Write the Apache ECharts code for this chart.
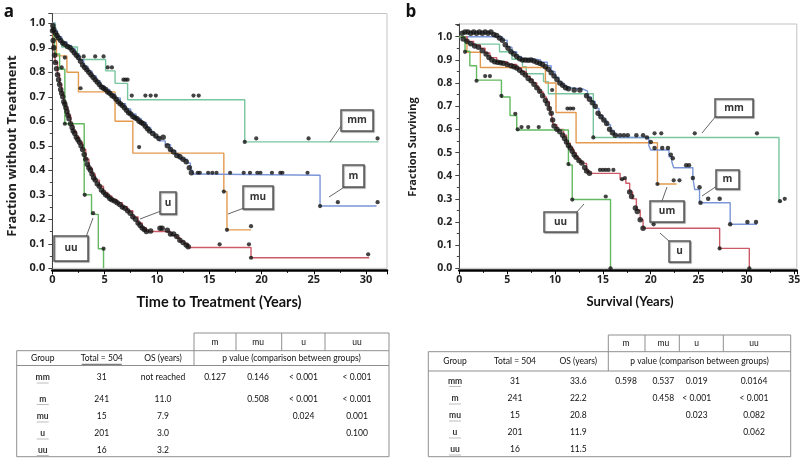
<!DOCTYPE html>
<html><head><meta charset="utf-8">
<script src="https://cdn.jsdelivr.net/npm/echarts@6/dist/echarts.min.js"></script>
<style>html,body{margin:0;padding:0;background:#fff}#c{width:800px;height:459px}</style>
</head><body><div id="c"></div>
<script>
// ---------------- Panel a: Time to Treatment (step curves [years, fraction]) ----------------
const aMM = [[0,1],[0.3,0.935],[0.9,0.903],[2.4,0.852],[5.1,0.806],[6.0,0.755],[7.2,0.688],[18.4,0.516],[31.2,0.516]];
const aMU = [[0,1],[0.2,0.933],[0.4,0.867],[1.4,0.8],[2.5,0.72],[6.0,0.6],[7.7,0.47],[16.4,0.313],[16.7,0.157],[19.0,0.157]];
const aM = [[0,1],[0.2,0.97],[0.5,0.945],[0.9,0.925],[1.4,0.91],[1.8,0.895],[2.2,0.875],[2.6,0.85],[3.0,0.825],[3.4,0.805],[3.8,0.785],[4.2,0.765],[4.6,0.745],[5.0,0.73],[5.5,0.712],[6.0,0.695],[6.5,0.672],[7.0,0.65],[7.5,0.63],[8.0,0.612],[8.5,0.595],[9.0,0.575],[9.4,0.555],[9.8,0.535],[10.2,0.52],[10.8,0.505],[11.3,0.48],[11.8,0.465],[12.2,0.445],[12.9,0.43],[13.2,0.40],[13.4,0.385],[13.7,0.38],[25.6,0.254],[31.0,0.254]];
const aU = [[0,1],[0.05,0.95],[0.15,0.9],[0.3,0.84],[0.5,0.79],[0.7,0.75],[0.9,0.715],[1.1,0.68],[1.3,0.655],[1.5,0.625],[1.75,0.59],[2.0,0.56],[2.3,0.535],[2.6,0.515],[2.9,0.485],[3.2,0.445],[3.5,0.41],[3.8,0.385],[4.1,0.36],[4.5,0.335],[4.9,0.31],[5.3,0.295],[5.7,0.28],[6.2,0.268],[6.7,0.25],[7.2,0.235],[7.7,0.21],[8.2,0.185],[8.6,0.165],[9.0,0.15],[11.3,0.135],[11.9,0.125],[12.2,0.11],[12.6,0.1],[13.0,0.085],[19.0,0.043],[30.3,0.043]];
const aUU = [[0,1],[0.15,0.9375],[0.3,0.875],[0.7,0.8125],[1.2,0.59],[3.05,0.30],[3.75,0.22],[4.4,0.08],[4.9,0]];
// dense event marks along the curves
const aMdots = [[0.05,0.99],[0.15,0.975],[0.3,0.96],[0.45,0.95],[0.6,0.94],[0.8,0.93],[1.0,0.92],[1.2,0.915],[1.45,0.905],[1.7,0.9],[1.9,0.89],[2.1,0.88],[2.3,0.87],[2.5,0.86],[2.7,0.845],[2.9,0.83],[3.1,0.82],[3.3,0.81],[3.5,0.8],[3.7,0.79],[3.9,0.78],[4.1,0.77],[4.3,0.76],[4.5,0.75],[4.7,0.74],[4.9,0.735],[5.1,0.73],[5.3,0.72],[5.5,0.715],[5.7,0.705],[5.9,0.7],[6.1,0.69],[6.3,0.68],[6.5,0.672],[6.7,0.665],[6.9,0.655],[7.1,0.645],[7.3,0.635],[7.5,0.63],[7.7,0.62],[7.9,0.615],[8.1,0.61],[8.3,0.6],[8.5,0.595],[8.7,0.59],[8.9,0.58],[9.1,0.57],[9.3,0.56],[9.6,0.55],[9.9,0.54],[10.2,0.53],[10.6,0.535],[11.0,0.5],[11.3,0.485],[11.6,0.475],[11.9,0.46],[12.2,0.455],[12.5,0.445],[12.8,0.435],[13.1,0.41],[13.3,0.39]];
const aUdots = [[0.02,0.97],[0.08,0.93],[0.15,0.9],[0.22,0.87],[0.3,0.84],[0.4,0.815],[0.5,0.79],[0.6,0.77],[0.7,0.75],[0.8,0.73],[0.9,0.715],[1.0,0.7],[1.1,0.68],[1.2,0.67],[1.3,0.655],[1.4,0.64],[1.5,0.625],[1.6,0.61],[1.75,0.59],[1.9,0.575],[2.0,0.56],[2.15,0.55],[2.3,0.535],[2.45,0.525],[2.6,0.515],[2.75,0.5],[2.9,0.485],[3.05,0.465],[3.2,0.445],[3.35,0.425],[3.5,0.41],[3.65,0.4],[3.8,0.385],[3.95,0.37],[4.1,0.36],[4.3,0.345],[4.5,0.335],[4.7,0.32],[4.9,0.31],[5.1,0.3],[5.3,0.295],[5.5,0.285],[5.7,0.28],[5.95,0.275],[6.2,0.268],[6.45,0.26],[6.7,0.25],[6.95,0.245],[7.2,0.235],[7.45,0.225],[7.7,0.21],[7.95,0.2],[8.2,0.185],[8.4,0.175],[8.6,0.165],[8.8,0.158],[9.0,0.15],[9.4,0.152],[10.3,0.163],[10.5,0.163],[11.0,0.155],[11.3,0.14],[11.6,0.14],[11.9,0.13],[12.2,0.115],[12.5,0.105],[12.8,0.095],[13.0,0.088]];
// censored marks
const aMMcens = [[3.0,0.865],[4.1,0.865],[4.9,0.865],[5.3,0.82],[5.7,0.82],[6.8,0.77],[7.0,0.77],[7.2,0.77],[7.6,0.705],[8.9,0.705],[9.4,0.705],[9.9,0.705],[13.5,0.705],[14.0,0.705],[18.4,0.516],[19.5,0.53],[24.5,0.53],[31.1,0.53]];
const aMUcens = [[1.2,0.86],[2.7,0.735],[8.3,0.495],[16.4,0.313],[16.7,0.157],[19.0,0.172]];
const aMcens = [[13.9,0.39],[14.1,0.39],[14.9,0.39],[15.3,0.39],[15.7,0.39],[17.0,0.39],[18.3,0.39],[18.9,0.39],[19.6,0.39],[19.9,0.39],[21.0,0.39],[21.8,0.39],[22.0,0.39],[24.4,0.39],[25.6,0.254],[27.3,0.27],[31.1,0.27]];
const aUcens = [[16.0,0.098],[18.8,0.098],[19.0,0.043],[30.2,0.057]];
const aUUcens = [[0.9,0.82],[1.2,0.59],[3.1,0.30],[3.9,0.225],[4.9,0.08]];

// ---------------- Panel b: Survival ----------------
const bMM = [[0,1],[0.8,0.968],[4.2,0.935],[5.5,0.903],[6.6,0.871],[7.0,0.84],[8.8,0.806],[9.3,0.754],[14.0,0.565],[33.4,0.29],[33.7,0.29]];
const bMU = [[0,1],[0.8,0.933],[2.2,0.867],[9.0,0.80],[10.1,0.673],[12.2,0.542],[20.7,0.364],[22.7,0.364]];
const bM = [[0,1],[4.0,1],[4.5,0.985],[5.0,0.955],[5.5,0.935],[6.0,0.915],[6.5,0.905],[7.5,0.9],[8.5,0.89],[9.2,0.875],[9.6,0.85],[10.0,0.825],[10.4,0.805],[10.8,0.79],[11.2,0.78],[11.6,0.773],[13.0,0.765],[13.4,0.74],[13.8,0.72],[14.2,0.69],[14.6,0.66],[15.0,0.64],[15.4,0.62],[15.8,0.595],[16.2,0.575],[16.6,0.565],[19.8,0.53],[20.0,0.511],[21.9,0.482],[22.2,0.46],[22.4,0.434],[24.4,0.39],[24.6,0.34],[25.1,0.283],[28.3,0.19],[31.1,0.19]];
const bU = [[0,1],[0.8,0.98],[1.5,0.965],[2.2,0.95],[2.7,0.93],[3.2,0.91],[3.9,0.892],[5.0,0.88],[6.0,0.865],[6.5,0.85],[7.0,0.83],[7.4,0.815],[7.7,0.8],[8.1,0.78],[8.4,0.76],[8.8,0.74],[9.1,0.72],[9.4,0.69],[9.6,0.67],[9.8,0.62],[10.2,0.6],[10.9,0.575],[11.2,0.54],[11.6,0.52],[11.9,0.5],[12.2,0.48],[12.5,0.465],[12.8,0.453],[13.3,0.42],[13.6,0.41],[16.8,0.385],[17.4,0.367],[17.8,0.33],[18.1,0.3],[18.5,0.252],[18.9,0.21],[19.2,0.173],[27.2,0.086],[30.3,0]];
const bUU = [[0,1],[0.6,0.9375],[1.1,0.875],[1.8,0.8125],[4.4,0.74],[5.3,0.66],[6.0,0.597],[11.4,0.446],[11.8,0.297],[15.8,0]];
const bMdots = [[0.3,1.015],[0.6,1.02],[0.9,1.02],[1.2,1.015],[1.5,1.02],[1.8,1.015],[2.1,1.02],[2.4,1.015],[2.7,1.02],[3.0,1.015],[3.3,1.02],[3.6,1.01],[3.9,1.005],[4.2,0.995],[4.5,0.985],[4.8,0.965],[5.1,0.95],[5.4,0.935],[5.7,0.925],[6.0,0.915],[6.3,0.905],[6.6,0.9],[6.9,0.9],[7.2,0.898],[7.5,0.9],[7.8,0.895],[8.1,0.89],[8.4,0.885],[8.7,0.88],[9.0,0.87],[9.3,0.86],[9.6,0.845],[9.9,0.83],[10.2,0.815],[10.5,0.8],[10.8,0.79],[11.1,0.78],[11.4,0.775],[12.0,0.77],[12.6,0.77],[13.3,0.745],[13.6,0.73],[13.9,0.715],[14.2,0.7],[14.5,0.67],[14.8,0.655],[15.1,0.64],[15.4,0.625],[15.7,0.6],[16.0,0.585],[16.3,0.575]];
const bUdots = [[0.4,0.99],[0.8,0.98],[1.2,0.97],[1.6,0.96],[2.0,0.955],[2.4,0.94],[2.8,0.925],[3.1,0.91],[3.4,0.9],[3.7,0.892],[4.0,0.89],[4.3,0.888],[4.6,0.885],[5.0,0.88],[5.4,0.875],[5.7,0.87],[6.0,0.865],[6.3,0.855],[6.6,0.845],[6.9,0.835],[7.2,0.82],[7.5,0.81],[7.8,0.795],[8.1,0.78],[8.4,0.765],[8.7,0.745],[9.0,0.725],[9.2,0.71],[9.4,0.69],[9.6,0.67],[9.75,0.64],[9.9,0.615],[10.2,0.6],[10.5,0.59],[10.8,0.575],[11.0,0.56],[11.2,0.545],[11.4,0.53],[11.6,0.52],[11.8,0.505],[12.0,0.49],[12.2,0.48],[12.5,0.465],[12.8,0.455],[13.1,0.435],[13.3,0.42],[13.6,0.41],[17.8,0.33],[18.0,0.31],[18.4,0.26],[18.6,0.245],[18.9,0.21],[19.2,0.173]];
const bMMcens = [[9.7,0.77],[14.0,0.565],[20.4,0.583],[21.1,0.583],[24.6,0.583],[31.1,0.583],[33.5,0.29],[34.0,0.30]];
const bMUcens = [[11.3,0.69],[11.6,0.69],[11.9,0.69],[20.7,0.364],[22.4,0.38],[23.0,0.38]];
const bMcens = [[16.8,0.575],[17.2,0.575],[17.6,0.575],[18.5,0.575],[19.2,0.575],[19.6,0.565],[20.0,0.545],[20.4,0.52],[21.2,0.52],[21.8,0.52],[22.1,0.49],[22.3,0.475],[23.7,0.445],[24.0,0.445],[24.4,0.39],[25.1,0.35],[25.2,0.283],[26.0,0.3],[27.2,0.3],[28.3,0.19],[30.1,0.2],[31.0,0.2]];
const bUcens = [[14.7,0.425],[15.0,0.425],[15.3,0.425],[15.6,0.425],[16.1,0.425],[17.0,0.385],[17.3,0.39],[20.3,0.19],[27.2,0.086],[30.3,0.0]];
const bUUcens = [[0.6,0.935],[1.8,0.81],[2.7,0.83],[3.2,0.83],[4.4,0.745],[5.85,0.667],[6.1,0.6],[6.5,0.61],[7.2,0.61],[8.3,0.61],[11.4,0.45],[11.8,0.297],[15.3,0.31],[15.8,0]];

// ---------------- Tables ----------------
const tableHead = ['Group', 'Total = 504', 'OS (years)'];
const pHead = ['m', 'mu', 'u', 'uu'];
const pCaption = 'p value (comparison between groups)';
const groups = ['mm', 'm', 'mu', 'u', 'uu'];
const totals = ['31', '241', '15', '201', '16'];
const osA = ['not reached', '11.0', '7.9', '3.0', '3.2'];
const pA = [['0.127','0.146','< 0.001','< 0.001'],['','0.508','< 0.001','< 0.001'],['','','0.024','0.001'],['','','','0.100'],['','','','']];
const osB = ['33.6', '22.2', '20.8', '11.9', '11.5'];
const pB = [['0.598','0.537','0.019','0.0164'],['','0.458','< 0.001','< 0.001'],['','','0.023','0.082'],['','','','0.062'],['','','','']];

// colours
const C = {mm:'#78c69f', m:'#7b96d8', mu:'#e39a4f', u:'#cc5b67', uu:'#62b95f'};
const AF = '"Open Sans", "Liberation Sans", sans-serif';
const TF = 'Lato, "Open Sans", sans-serif';

const chart = echarts.init(document.getElementById('c'));

function stepLine(data, color, i) {
  return {type:'line', xAxisIndex:i, yAxisIndex:i, data:data, step:'end', symbol:'none', showSymbol:false,
    lineStyle:{color:color, width:1.4}, itemStyle:{color:color}, z:2, silent:true, animation:false};
}
function dots(data, i, size) {
  return {type:'scatter', xAxisIndex:i, yAxisIndex:i, data:data, symbol:'circle', symbolSize:size || 4.5,
    itemStyle:{color:'#141414'}, z:3, silent:true, animation:false};
}
function xAx(i, max, fs) {
  return {type:'value', gridIndex:i, min:0, max:max, interval:5, offset:2,
    axisLine:{show:true, onZero:false, lineStyle:{color:'#000', width:2.5}},
    axisTick:{show:true, length:4, lineStyle:{color:'#000'}},
    minorTick:{show:true, splitNumber:2, length:2.5, lineStyle:{color:'#000'}},
    splitLine:{show:false}, minorSplitLine:{show:false},
    axisLabel:{color:'#222', fontFamily:AF, fontWeight:'bold', fontSize:fs, margin:4,
      formatter:function(v){return (Math.abs(v - Math.round(v)) < 1e-6 && Math.round(v) % 5 === 0) ? String(Math.round(v)) : '';}}};
}
function yAx(i, max, fs) {
  return {type:'value', gridIndex:i, min:0, max:max, interval:0.1,
    axisLine:{show:true, lineStyle:{color:'#444', width:1}},
    axisTick:{show:true, length:4, lineStyle:{color:'#444'}},
    minorTick:{show:true, splitNumber:2, length:2.5, lineStyle:{color:'#444'}},
    splitLine:{show:false}, minorSplitLine:{show:false},
    axisLabel:{color:'#222', fontFamily:AF, fontWeight:'bold', fontSize:fs, margin:7,
      formatter:function(v){return v > 1.001 ? '' : v.toFixed(1);}}};
}

// graphic helpers
const G = [];
function T(x, y, text, size, weight, font, extra) {
  const el = {type:'text', x:x, y:y, z:20, silent:true,
    style:Object.assign({text:text, fontSize:size, fontWeight:weight||'normal', fontFamily:font||TF,
      fill:'#111', align:'center', verticalAlign:'middle'}, extra||{})};
  G.push(el); return el;
}
function L(x1, y1, x2, y2, color, w) {
  G.push({type:'line', z:15, silent:true, shape:{x1:x1,y1:y1,x2:x2,y2:y2}, style:{stroke:color, lineWidth:w}});
}
function box(x, y, w, h, label, lx1, ly1, lx2, ly2) {
  L(lx1, ly1, lx2, ly2, '#666', 1);
  G.push({type:'rect', z:16, silent:true, shape:{x:x, y:y, width:w, height:h},
    style:{fill:'#fff', stroke:'#5a5a5a', lineWidth:1.5, shadowBlur:1, shadowOffsetX:1, shadowOffsetY:1, shadowColor:'rgba(0,0,0,0.35)'}});
  T(x + w/2, y + h/2, label, 10, 'bold', AF, {fill:'#333'});
}

// panel letters and axis titles
T(9, 12, 'a', 17, 'bold', AF, {fill:'#111'});
T(411, 12, 'b', 17, 'bold', AF, {fill:'#111'});
G.push({type:'text', x:12, y:146, rotation:Math.PI/2, z:20, silent:true,
  style:{text:'Fraction without Treatment', fontSize:13, fontWeight:'bold', fontFamily:AF, fill:'#222', align:'center', verticalAlign:'middle'}});
G.push({type:'text', x:413, y:147, rotation:Math.PI/2, z:20, silent:true,
  style:{text:'Fraction Surviving', fontSize:11, fontWeight:'bold', fontFamily:AF, fill:'#222', align:'center', verticalAlign:'middle'}});
T(219, 302, 'Time to Treatment (Years)', 14.5, 'bold', TF, {fill:'#111'});
T(630, 302, 'Survival (Years)', 13, 'bold', TF, {fill:'#111'});

// curve labels
box(341, 110, 32, 21, 'mm', 341, 126, 330, 142);
box(343, 165, 21, 22, 'm', 346, 186, 329, 197);
box(243, 186, 30, 23, 'mu', 244, 208, 228, 214);
box(160, 192, 16, 22, 'u', 161, 211, 140, 219);
box(54, 236, 34, 25, 'uu', 86, 237, 93, 218);
box(715, 99, 38, 18, 'mm', 716, 116, 702, 133);
box(716, 170, 23, 19, 'm', 717, 186, 702, 196);
box(650, 201, 34, 21, 'um', 662, 201, 667, 187);
box(669, 241, 21, 21, 'u', 670, 242, 660, 233);
box(544, 212, 33, 20, 'uu', 576, 213, 584, 204);

// tables
function drawTable(lay, os, pv) {
  const lc = '#8f8f8f';
  L(lay.pDiv[0], lay.hdrTop, lay.right, lay.hdrTop, lc, 1);
  for (let k = 0; k < lay.pDiv.length; k++) L(lay.pDiv[k], lay.hdrTop, lay.pDiv[k], lay.top, lc, 1);
  L(lay.left, lay.top, lay.right, lay.top, lc, 1);
  L(lay.left, lay.grpLine, lay.right, lay.grpLine, lc, 1);
  L(lay.left, lay.bottom, lay.right, lay.bottom, lc, 1);
  L(lay.left, lay.top, lay.left, lay.bottom, lc, 1);
  L(lay.right, lay.top, lay.right, lay.bottom, lc, 1);
  L(lay.pDiv[0], lay.top, lay.pDiv[0], lay.grpLine, lc, 1);
  for (let k = 0; k < pHead.length; k++) T(lay.pX[k], lay.hdrY, pHead[k], 8.5, 'normal');
  for (let k = 0; k < tableHead.length; k++) T(lay.colX[k], lay.grpY, tableHead[k], 8.5, 'normal');
  if (lay.underlineTotal) L(lay.colX[1] - 20, lay.grpY + 6, lay.colX[1] + 20, lay.grpY + 6, '#333', 0.8);
  T((lay.pDiv[0] + lay.right) / 2, lay.grpY, pCaption, 8.5, 'normal');
  for (let r = 0; r < groups.length; r++) {
    const y = lay.rowY[r];
    T(lay.colX[0], y, groups[r], 8.5, 'bold', TF, {fill:'#333'});
    L(lay.colX[0] - 6, y + 5.5, lay.colX[0] + 6, y + 5.5, '#bdbdbd', 1);
    T(lay.colX[1], y, totals[r], 8.5, 'normal');
    T(lay.colX[2], y, os[r], 8.5, 'normal');
    for (let k = 0; k < 4; k++) if (pv[r][k]) T(lay.pX[k], y, pv[r][k], 8.5, 'normal');
  }
}
drawTable({left:16.7, right:389, hdrTop:333, top:350.7, grpLine:365.5, bottom:456.7, pDiv:[194,236,281.7,325,389],
  colX:[42.7,101.7,163], pX:[215,258,303.5,357], hdrY:342, grpY:358.3, rowY:[377.5,399,416.5,433.5,450], underlineTotal:true}, osA, pA);
drawTable({left:428.3, right:790.7, hdrTop:335, top:351.7, grpLine:371, bottom:456.7, pDiv:[608.3,645,679.3,723.3,790.7],
  colX:[455,515,578.3], pX:[626,663.3,696.7,754], hdrY:343.5, grpY:361.5, rowY:[381,398.5,415.5,432.5,449.5], underlineTotal:false}, osB, pB);

chart.setOption({
  animation:false,
  backgroundColor:'#fff',
  grid:[
    {left:52.3, top:13.5, width:334.7, height:254.8, show:true, borderColor:'#c4c4c4', borderWidth:1, backgroundColor:'transparent', containLabel:false, outerBoundsMode:'none'},
    {left:459.3, top:24, width:337.5, height:244.3, show:true, borderColor:'#c4c4c4', borderWidth:1, backgroundColor:'transparent', containLabel:false, outerBoundsMode:'none'}
  ],
  xAxis:[xAx(0, 32, 11), xAx(1, 35.26, 10.5)],
  yAxis:[yAx(0, 1.04, 11), yAx(1, 1.055, 10.5)],
  series:[
    stepLine(aMM, C.mm, 0), stepLine(aMU, C.mu, 0), stepLine(aM, C.m, 0), stepLine(aU, C.u, 0), stepLine(aUU, C.uu, 0),
    dots(aMdots, 0, 5.5), dots(aUdots, 0, 5.5),
    dots(aMMcens, 0, 4.2), dots(aMUcens, 0, 4.2), dots(aMcens, 0, 4.2), dots(aUcens, 0, 4.2), dots(aUUcens, 0, 4.2),
    stepLine(bMM, C.mm, 1), stepLine(bMU, C.mu, 1), stepLine(bM, C.m, 1), stepLine(bU, C.u, 1), stepLine(bUU, C.uu, 1),
    dots(bMdots, 1, 5.5), dots(bUdots, 1, 5.5),
    dots(bMMcens, 1, 4.2), dots(bMUcens, 1, 4.2), dots(bMcens, 1, 4.5), dots(bUcens, 1, 4.2), dots(bUUcens, 1, 4.2)
  ],
  graphic:{elements:G}
});
</script></body></html>
